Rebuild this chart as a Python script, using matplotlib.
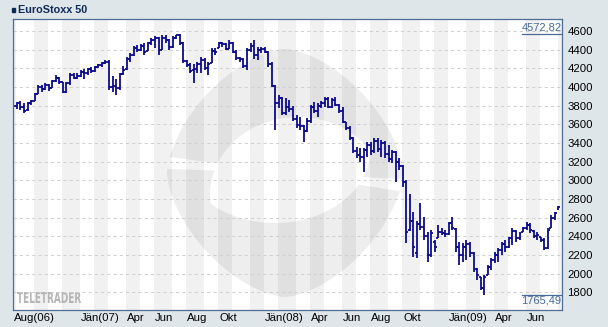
import numpy as np
import pandas as pd
import matplotlib
matplotlib.use('Agg')
import matplotlib.pyplot as plt
from matplotlib.collections import LineCollection
from matplotlib.patches import PathPatch, Rectangle
from matplotlib.path import Path
from matplotlib.textpath import TextPath
from matplotlib.font_manager import FontProperties
from matplotlib.transforms import Affine2D, blended_transform_factory

plt.rcParams['font.family'] = ['Liberation Sans', 'DejaVu Sans']

# weekly bars, first week starts Monday 2006-08-21
start_week = '2006-08-21'

opens = [3775, 3795, 3825, 3790, 3750, 3830, 3855, 3930, 4005, 3980,
         4025, 3990, 4065, 4100, 4050, 3945, 4040, 4130, 4100, 4120,
         4160, 4150, 4190, 4170, 4210, 4235, 4260, 4270, 4000, 4010,
         3990, 4140, 4190, 4300, 4340, 4420, 4400, 4440, 4390, 4470,
         4500, 4520, 4400, 4530, 4500, 4430, 4530, 4555, 4470, 4280,
         4240, 4180, 4190, 4250, 4290, 4200, 4255, 4390, 4420, 4470,
         4460, 4410, 4470, 4380, 4310, 4300, 4220, 4400, 4440, 4340,
         4400, 4410, 4380, 4250, 4010, 3830, 3880, 3720, 3790, 3760,
         3660, 3590, 3580, 3530, 3640, 3790, 3740, 3800, 3830, 3870,
         3790, 3860, 3810, 3740, 3620, 3560, 3450, 3310, 3270, 3250,
         3330, 3380, 3310, 3420, 3340, 3400, 3280, 3230, 3300, 3200,
         3150, 2980, 2470, 2560, 2220, 2530, 2500, 2400, 2200, 2340,
         2380, 2450, 2440, 2420, 2540, 2480, 2290, 2200, 2290, 2320,
         2220, 2050, 1960, 1850, 1990, 2070, 2150, 2200, 2250, 2320,
         2280, 2380, 2460, 2380, 2450, 2490, 2520, 2460, 2400, 2390,
         2360, 2270, 2490, 2600, 2690]

highs = [3807, 3835, 3845, 3825, 3843, 3865, 3940, 4021, 4021, 4039,
         4032, 4075, 4129, 4111, 4057, 4057, 4154, 4146, 4146, 4182,
         4190, 4200, 4215, 4220, 4245, 4271, 4285, 4290, 4115, 4090,
         4150, 4220, 4325, 4360, 4440, 4450, 4465, 4470, 4486, 4521,
         4550, 4540, 4555, 4560, 4510, 4550, 4560, 4572.82, 4480, 4285,
         4260, 4250, 4271, 4325, 4307, 4271, 4414, 4414, 4486, 4486,
         4468, 4504, 4480, 4396, 4325, 4307, 4414, 4468, 4500, 4432,
         4432, 4432, 4390, 4271, 4020, 3914, 3896, 3880, 3860, 3800,
         3700, 3682, 3593, 3664, 3807, 3843, 3825, 3850, 3896, 3896,
         3878, 3896, 3820, 3789, 3625, 3580, 3468, 3361, 3343, 3343,
         3414, 3414, 3450, 3450, 3432, 3420, 3380, 3330, 3310, 3236,
         3164, 3000, 2850, 2664, 2560, 2753, 2611, 2450, 2468, 2360,
         2521, 2485, 2468, 2557, 2610, 2490, 2343, 2325, 2360, 2343,
         2236, 2057, 1968, 1986, 2093, 2164, 2236, 2271, 2343, 2360,
         2396, 2486, 2468, 2450, 2503, 2557, 2539, 2468, 2450, 2396,
         2378, 2486, 2628, 2664, 2725]

lows = [3753, 3760, 3755, 3718, 3745, 3805, 3845, 3925, 3950, 3968,
        3961, 3985, 4057, 4032, 3932, 3932, 4021, 4082, 4082, 4111,
        4090, 4129, 4150, 4160, 4200, 4218, 4245, 3968, 3950, 3910,
        3970, 4130, 4180, 4270, 4330, 4380, 4390, 4345, 4385, 4445,
        4420, 4343, 4395, 4470, 4400, 4420, 4510, 4450, 4253, 4218,
        4146, 4040, 4146, 4150, 4182, 4128, 4253, 4343, 4414, 4432,
        4396, 4410, 4361, 4289, 4271, 4200, 4182, 4379, 4300, 4289,
        4361, 4361, 4218, 4000, 3540, 3771, 3700, 3700, 3736, 3640,
        3557, 3539, 3414, 3520, 3611, 3718, 3680, 3771, 3789, 3780,
        3780, 3800, 3718, 3611, 3540, 3432, 3289, 3236, 3200, 3093,
        3254, 3271, 3289, 3300, 3254, 3236, 3200, 3182, 2985, 3111,
        2932, 2325, 2460, 2182, 2164, 2468, 2360, 2128, 2182, 2236,
        2378, 2414, 2389, 2410, 2468, 2236, 2093, 2128, 2146, 2182,
        2021, 1932, 1825, 1765.49, 1986, 2039, 2110, 2128, 2200, 2236,
        2271, 2307, 2343, 2360, 2450, 2468, 2432, 2378, 2360, 2343,
        2253, 2265, 2485, 2575, 2682]

closes = [3795, 3825, 3790, 3745, 3830, 3855, 3930, 4005, 3980, 4025,
          3990, 4065, 4100, 4050, 3945, 4040, 4130, 4100, 4120, 4160,
          4150, 4190, 4170, 4210, 4235, 4260, 4270, 4000, 4010, 3990,
          4140, 4180, 4300, 4340, 4420, 4400, 4440, 4380, 4470, 4500,
          4520, 4400, 4530, 4500, 4430, 4530, 4555, 4470, 4280, 4240,
          4170, 4190, 4250, 4290, 4200, 4250, 4390, 4380, 4470, 4460,
          4410, 4470, 4380, 4310, 4300, 4220, 4400, 4440, 4340, 4400,
          4410, 4380, 4250, 4010, 3830, 3880, 3720, 3790, 3760, 3660,
          3590, 3580, 3530, 3640, 3790, 3740, 3800, 3830, 3870, 3790,
          3860, 3810, 3740, 3620, 3560, 3450, 3310, 3270, 3250, 3330,
          3380, 3310, 3420, 3340, 3400, 3280, 3230, 3300, 3200, 3150,
          2980, 2450, 2560, 2290, 2530, 2500, 2400, 2200, 2430, 2290,
          2450, 2440, 2420, 2540, 2490, 2290, 2200, 2290, 2320, 2220,
          2050, 1980, 1850, 1960, 2070, 2150, 2200, 2250, 2320, 2280,
          2380, 2460, 2380, 2420, 2490, 2520, 2470, 2400, 2410, 2360,
          2270, 2470, 2600, 2650, 2710]

tick_months = ['2006-08', '2007-01', '2007-04', '2007-06', '2007-08', '2007-10',
               '2008-01', '2008-04', '2008-06', '2008-08', '2008-10',
               '2009-01', '2009-04', '2009-06']
tick_labels = ['Aug(06)', 'Jän(07)', 'Apr', 'Jun', 'Aug', 'Okt',
               'Jän(08)', 'Apr', 'Jun', 'Aug', 'Okt',
               'Jän(09)', 'Apr', 'Jun']
y_ticks = list(range(1800, 4601, 200))

W, H = 608, 327
fig = plt.figure(figsize=(W / 100, H / 100), dpi=100)
fig.patch.set_facecolor('#dfe6ea')


def fx(px):
    return px / W


def fy(py):
    return 1 - py / H


ax = fig.add_axes([fx(12.7), fy(310), (562 - 12.7) / W, (310 - 19) / H])
ax.set_facecolor('white')

n = len(closes)
x0, x1 = -0.2, float(n)

# month stripes (a week belongs to the month of its Friday)
weeks = pd.date_range(start_week, periods=n, freq='7D')
fridays = weeks + pd.Timedelta(days=4)
mon = fridays.year * 12 + fridays.month
starts = [0] + [i for i in range(1, n) if mon[i] != mon[i - 1]]
for j, s in enumerate(starts):
    a = x0 if s == 0 else s - 0.2
    b = starts[j + 1] - 0.2 if j + 1 < len(starts) else x1
    if fridays[s].month % 2 == 0:
        ax.axvspan(a, b, color='#f1f1f1', lw=0, zorder=0.1)

first_k = {}
for i in range(n):
    first_k.setdefault((fridays[i].year, fridays[i].month), i)
tick_pos = []
for m in tick_months:
    yy, mm = map(int, m.split('-'))
    s = first_k[(yy, mm)]
    tick_pos.append((x0 if s == 0 else s - 0.2) + 0.3)


# watermark logo
def ray_to_ellipse(cx, cy, th, ex, ey, a, b):
    dx, dy = np.cos(th), np.sin(th)
    px, py = cx - ex, cy - ey
    A = (dx / a) ** 2 + (dy / b) ** 2
    B = 2 * (px * dx / a ** 2 + py * dy / b ** 2)
    C = (px / a) ** 2 + (py / b) ** 2 - 1
    return (-B + np.sqrt(B * B - 4 * A * C)) / (2 * A)


def logo_band(t0, t1):
    cx, cy = 285, 173
    th = np.radians(np.linspace(t0, t1, 120))
    p = 1.6
    r_out = (np.abs(np.cos(th) / 118) ** p + np.abs(np.sin(th) / 124) ** p) ** (-1 / p)
    r_in = np.minimum(ray_to_ellipse(cx, cy, th, 298, 195, 88, 78),
                      ray_to_ellipse(cx, cy, th, 275, 150, 95, 73))
    xs = np.concatenate([cx + r_out * np.cos(th), (cx + r_in * np.cos(th))[::-1]])
    ys = np.concatenate([cy + r_out * np.sin(th), (cy + r_in * np.sin(th))[::-1]])
    verts = np.column_stack([xs / W, 1 - ys / H])
    return Path(np.vstack([verts, verts[:1]]), closed=True)


for t0, t1 in [(188, 363), (9, 182)]:
    ax.add_patch(PathPatch(logo_band(t0, t1), transform=fig.transFigure,
                           facecolor='black', alpha=0.065, lw=0, zorder=0.5))

# TELETRADER mark
tp = TextPath((0, 0), 'TELETRADER', size=10,
              prop=FontProperties(family='DejaVu Sans', weight='bold'))
ext = tp.get_extents()
sx = (81 - 17) / ext.width
sy = (303 - 292) / ext.height
tr = (Affine2D().translate(-ext.x0, -ext.y0).scale(sx / W, sy / H)
      .translate(17 / W, 1 - 303 / H) + fig.transFigure)
ax.add_patch(PathPatch(tp, transform=tr, facecolor='#b5b5b5', lw=0, zorder=0.6))

# grid
for v in y_ticks:
    ax.axhline(v, color='#d0d0d0', lw=0.75, ls=(0, (3, 3)), zorder=1)

# OHLC bars
tick = 0.55
segs = []
for i in range(n):
    segs.append([(i, lows[i]), (i, highs[i])])
    segs.append([(i - tick, opens[i]), (i, opens[i])])
    segs.append([(i, closes[i]), (i + tick, closes[i])])
ax.add_collection(LineCollection(segs, colors='#0c0c8c', linewidths=1.3,
                                 zorder=2, capstyle='butt'))

ax.set_xlim(x0, x1)
ax.set_ylim(1610, 4729)

ax.set_xticks(tick_pos)
ax.set_xticklabels(tick_labels, ha='left')
ax.yaxis.tick_right()
ax.set_yticks(y_ticks)
ax.set_yticklabels([str(v) for v in y_ticks])
ax.tick_params(axis='y', length=0, pad=4, labelsize=8.2, colors='black')
ax.tick_params(axis='x', length=0, pad=2.5, labelsize=8.2, colors='black')
for s in ax.spines.values():
    s.set_color('#4d6e96')
    s.set_linewidth(0.9)

# highest / lowest value markers
lab_col = '#4a6b96'
hi, lo = max(highs), min(lows)
btr = blended_transform_factory(ax.transAxes, ax.transData)
ax.plot([0.928, 1.0], [hi, hi], color=lab_col, lw=0.9, transform=btr, zorder=3)
ax.text(0.999, hi + 30, f'{hi:.2f}'.replace('.', ','), transform=btr,
        ha='right', va='baseline', fontsize=8, color=lab_col, zorder=3)
ax.plot([0.928, 1.0], [lo, lo], color=lab_col, lw=0.9, transform=btr, zorder=3)
ax.text(0.999, lo - 5, f'{lo:.2f}'.replace('.', ','), transform=btr,
        ha='right', va='top', fontsize=8, color=lab_col, zorder=3)

# title
fig.patches.append(Rectangle((fx(12), fy(12.3)), 3 / W, 4 / H,
                             transform=fig.transFigure, color='#0e2a57'))
fig.text(fx(18), fy(9.8), 'EuroStoxx 50', fontsize=7.8, fontweight='bold',
         color='#0e2a57', va='center', ha='left')

fig.savefig('out.png', dpi=100, facecolor=fig.get_facecolor())
